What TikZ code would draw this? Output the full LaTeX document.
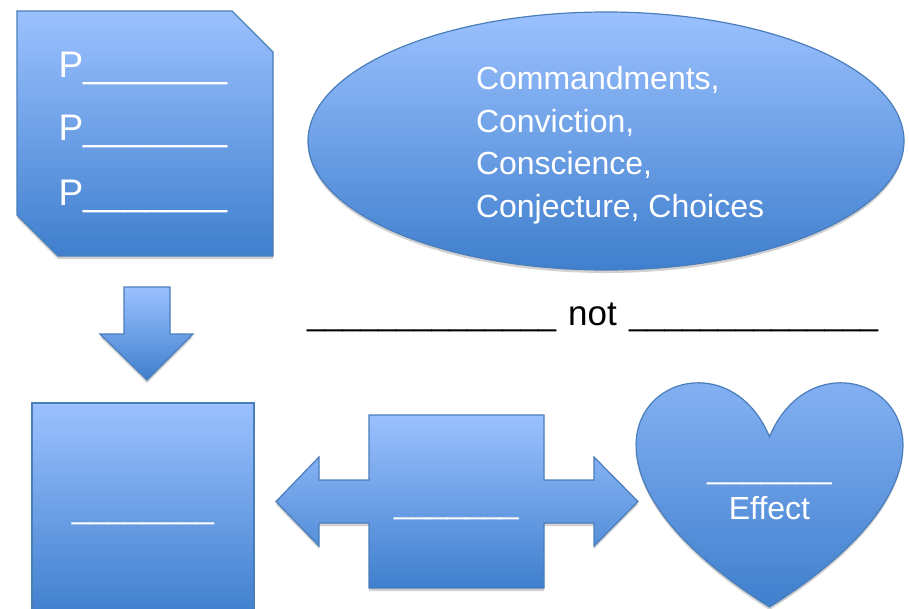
\documentclass[tikz,border=0pt]{standalone}
\usepackage{fontspec}
\setmainfont{Liberation Sans}
\usetikzlibrary{shadows}
\definecolor{topblue}{RGB}{155,193,255}
\definecolor{botblue}{RGB}{63,127,205}
\definecolor{edgeblue}{RGB}{74,126,187}
\newcommand\fsbig{\fontsize{37}{44}\selectfont}
\newcommand\fsmid{\fontsize{32}{38}\selectfont}
\newcommand\fsnot{\fontsize{35}{42}\selectfont}
\begin{document}
\begin{tikzpicture}[x=1pt,y=-1pt,
  bluefill/.style={draw=edgeblue, line width=1.2pt, top color=topblue, bottom color=botblue,
    drop shadow={shadow xshift=0pt, shadow yshift=-3pt, opacity=0.18, fill=black}},
  wtxt/.style={text=white, inner sep=0pt, outer sep=0pt},
  btxt/.style={text=black, inner sep=0pt, outer sep=0pt}]
\useasboundingbox (0,0) rectangle (909,608);
\fill[white] (0,0) rectangle (909,608);
% snipped rectangle
\draw[bluefill] (17,11) -- (232,11) -- (273,52) -- (273,256) -- (58,256) -- (17,215) -- cycle;
\node[wtxt, anchor=base west, font=\fsbig] (p1) at (58.5,77) {P\_\_\_\_\_\_\_};
\node[wtxt, anchor=base west, font=\fsbig] (p2) at (58.5,140) {P\_\_\_\_\_\_\_};
\node[wtxt, anchor=base west, font=\fsbig] (p3) at (58.5,205) {P\_\_\_\_\_\_\_};
% ellipse
\draw[bluefill] (606,141) ellipse [x radius=298pt, y radius=129pt];
\node[wtxt, anchor=base west, font=\fsmid] (c1) at (476,89) {Commandments,};
\node[wtxt, anchor=base west, font=\fsmid] (c2) at (476,132) {Conviction,};
\node[wtxt, anchor=base west, font=\fsmid] (c3) at (476,174.5) {Conscience,};
\node[wtxt, anchor=base west, font=\fsmid] (c4) at (476,217) {Conjecture, Choices};
% not line
\node[btxt, anchor=base west, font=\fsmid] (notl) at (307,325) {\_\_\_\_\_\_\_\_\_\_\_\_\_\_};
\node[btxt, anchor=base, font=\fsnot] (notm) at (592.5,325) {not};
\node[btxt, anchor=base west, font=\fsmid] (notr) at (629,325) {\_\_\_\_\_\_\_\_\_\_\_\_\_\_};
% down arrow
\draw[bluefill] (124,287) -- (170,287) -- (170,334) -- (193,334) -- (147,380) -- (100,334) -- (124,334) -- cycle;
% bottom-left box
\draw[bluefill] (32,403) rectangle (254,616);
\node[wtxt, anchor=base, font=\fsmid] (boxtxt) at (143,518) {\_\_\_\_\_\_\_\_};
% left-right arrow callout
\draw[bluefill] (369,415) -- (544,415) -- (544,480) -- (594,480) -- (594,457) -- (638,501.5)
  -- (594,546) -- (594,523) -- (544,523) -- (544,588) -- (369,588) -- (369,523) -- (319,523)
  -- (319,546) -- (276,501.5) -- (319,457) -- (319,480) -- (369,480) -- cycle;
\node[wtxt, anchor=base, font=\fsmid] (midtxt) at (456.5,513) {\_\_\_\_\_\_\_};
% heart
\draw[bluefill] (769.5,436.75) .. controls (824.7,304.3) and (1040,436.75) .. (769.5,607)
  .. controls (499,436.75) and (714.3,304.3) .. (769.5,436.75) -- cycle;
\node[wtxt, anchor=base, font=\fsmid] (h1) at (769.5,478) {\_\_\_\_\_\_\_};
\node[wtxt, anchor=base, font=\fsmid] (h2) at (769.5,519.3) {Effect};
\end{tikzpicture}
\end{document}
